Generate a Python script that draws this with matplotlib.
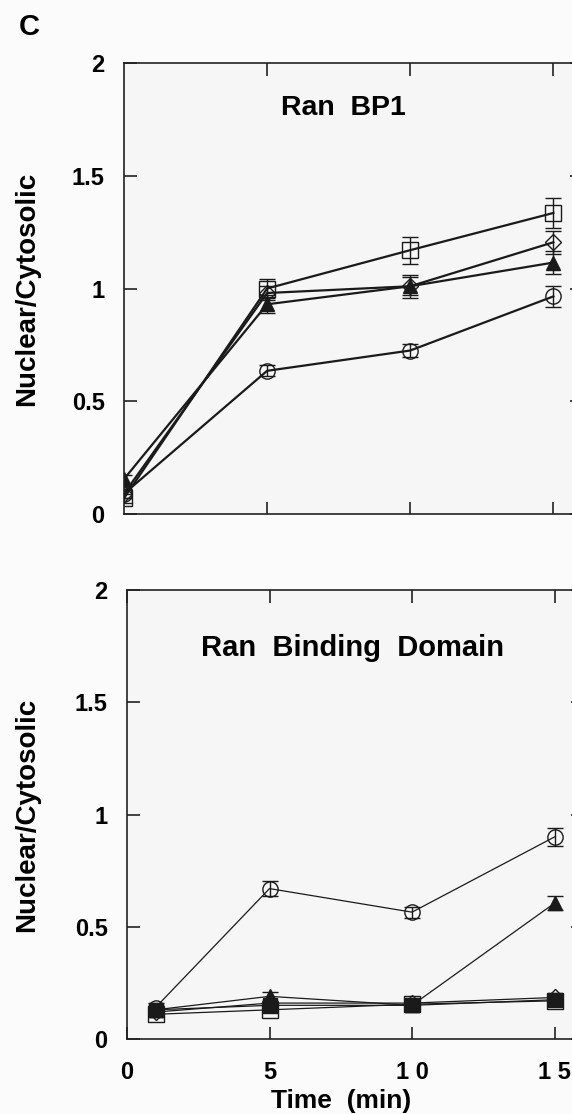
import matplotlib.pyplot as plt

plt.rcParams['font.family'] = ['Liberation Sans', 'DejaVu Sans']
plt.rcParams['font.weight'] = 'bold'

# Ran BP1 panel
t_top = [0, 5, 10, 15]
sq_top = [0.07, 1.00, 1.17, 1.335]
sq_top_err = [0.02, 0.04, 0.06, 0.065]
di_top = [0.09, 0.98, 1.01, 1.205]
di_top_err = [0.02, 0.03, 0.04, 0.05]
tri_top = [0.155, 0.93, 1.01, 1.115]
tri_top_err = [0.02, 0.04, 0.05, 0.05]
ci_top = [0.09, 0.635, 0.725, 0.965]
ci_top_err = [0.02, 0.025, 0.03, 0.045]

# Ran Binding Domain panel
t_bot = [1, 5, 10, 15]
ci_bot = [0.14, 0.67, 0.565, 0.90]
ci_bot_err = [0.02, 0.035, 0.025, 0.04]
tri_bot = [0.13, 0.19, 0.15, 0.605]
tri_bot_err = [0.01, 0.02, 0.015, 0.03]
sq_bot = [0.11, 0.13, 0.155, 0.17]
sq_bot_err = [0.01, 0.015, 0.01, 0.015]
di_bot = [0.12, 0.16, 0.16, 0.185]
di_bot_err = [0.01, 0.01, 0.01, 0.01]
fsq_bot = [0.13, 0.15, 0.15, 0.175]
fsq_bot_err = [0.01, 0.01, 0.01, 0.01]

ytick_vals = [0, 0.5, 1, 1.5, 2]
ytick_labels = ['0', '0.5', '1', '1.5', '2']
xtick_vals = [0, 5, 10, 15]
xtick_labels = ['0', '5', '1 0', '1 5']

fig = plt.figure(figsize=(5.72, 11.14), dpi=100)
fig.patch.set_facecolor('#fbfbfb')


def style_axes(ax, ylab_x):
    ax.set_facecolor('#f6f6f6')
    ax.set_xlim(0, 16)
    ax.set_ylim(0, 2)
    for s in ax.spines.values():
        s.set_linewidth(1.2)
        s.set_color('#222222')
    ax.set_yticks(ytick_vals)
    ax.set_yticklabels(ytick_labels)
    ax.tick_params(direction='in', length=9, width=1.2, top=True, right=True,
                   labelsize=17, color='#222222')
    ax.tick_params(axis='y', pad=14)
    ax.tick_params(axis='x', pad=16)
    ax.set_ylabel('Nuclear/Cytosolic', fontsize=20, fontweight='bold', va='center')
    ax.yaxis.set_label_coords(ylab_x, 0.5)


def series(ax, x, y, err, marker, filled, lw, ms):
    ax.errorbar(x, y, yerr=err, marker=marker, color='#1a1a1a', lw=lw,
                mfc='#1a1a1a' if filled else 'none', mec='#1a1a1a', mew=1.0,
                ms=ms, capsize=6, elinewidth=1.0, capthick=1.0)


ax1 = fig.add_axes([124 / 572, 1 - 514 / 1114, 458 / 572, 451 / 1114])
style_axes(ax1, -0.212)
series(ax1, t_top, sq_top, sq_top_err, 's', False, 1.6, 12)
series(ax1, t_top, di_top, di_top_err, 'D', False, 1.6, 8)
series(ax1, t_top, tri_top, tri_top_err, '^', True, 1.6, 10)
series(ax1, t_top, ci_top, ci_top_err, 'o', False, 1.6, 11)
ax1.set_xticks([5, 10, 15])
ax1.set_xticklabels([])
ax1.text(7.65, 1.80, 'Ran  BP1', ha='center', va='center', fontsize=20.5, fontweight='bold')

ax2 = fig.add_axes([127 / 572, 1 - 1039 / 1114, 456 / 572, 449 / 1114])
style_axes(ax2, -0.219)
series(ax2, t_bot, sq_bot, sq_bot_err, 's', False, 0.9, 12)
series(ax2, t_bot, fsq_bot, fsq_bot_err, 's', True, 0.9, 10)
series(ax2, t_bot, di_bot, di_bot_err, 'D', False, 0.9, 8)
series(ax2, t_bot, tri_bot, tri_bot_err, '^', True, 0.9, 10)
series(ax2, t_bot, ci_bot, ci_bot_err, 'o', False, 0.9, 11)
ax2.set_xticks(xtick_vals)
ax2.set_xticklabels(xtick_labels)
ax2.set_xlabel('Time  (min)', fontsize=19, fontweight='bold')
ax2.xaxis.set_label_coords(0.47, -0.112)
ax2.text(7.9, 1.74, 'Ran  Binding  Domain', ha='center', va='center',
         fontsize=21, fontweight='bold')

fig.text(29 / 572, 1 - 27 / 1114, 'C', ha='center', va='center', fontsize=21,
         fontweight='bold')

fig.savefig('out.png', dpi=100, facecolor=fig.get_facecolor())
